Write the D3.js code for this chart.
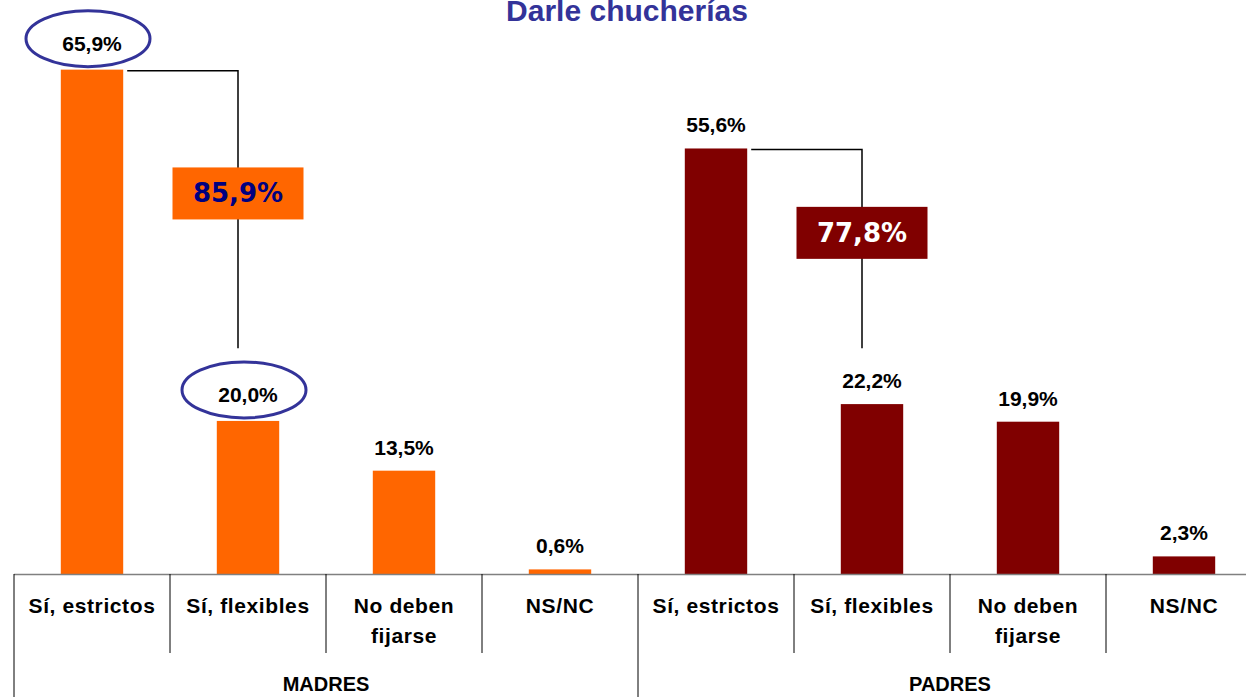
<!DOCTYPE html>
<html>
<head>
<meta charset="utf-8">
<script src="https://cdn.jsdelivr.net/npm/d3@7"></script>
<style>
  body { margin: 0; background: #fff; }
  svg { display: block; font-family: "Liberation Sans", Arial, sans-serif; }
</style>
</head>
<body>
<div id="chart"></div>
<script>
// data
const title = 'Darle chucherías';
const groups = ['MADRES', 'PADRES'];
const categories = ['Sí, estrictos', 'Sí, flexibles', 'No deben fijarse', 'NS/NC'];
const madres = [65.9, 20.0, 13.5, 0.6];
const padres = [55.6, 22.2, 19.9, 2.3];
const totals = [85.9, 77.8]; // estrictos + flexibles
const circled = [0, 1]; // madres values marked with an ellipse

const colors = ['#FF6600', '#800000'];
const totalText = ['#000080', '#FFFFFF'];

const width = 1246, height = 697;
const margin = { top: 0, right: -16, bottom: 123, left: 14 };
const baseY = height - margin.bottom;

const rows = groups.flatMap((g, gi) =>
  categories.map((c, ci) => ({
    group: g, gi, cat: c, ci,
    key: g + '|' + c,
    value: (gi === 0 ? madres : padres)[ci]
  }))
);

const svg = d3.select('#chart').append('svg')
  .attr('width', width)
  .attr('height', height);

//scale x: one cell per group/category pair
const xCell = d3.scaleBand()
  .domain(rows.map(d => d.key))
  .range([margin.left, width - margin.right])
  .padding(0);

const xBar = d3.scaleBand()
  .domain(rows.map(d => d.key))
  .range([margin.left, width - margin.right])
  .paddingInner(0.6)
  .paddingOuter(0.3);

//scale y
const y = d3.scaleLinear().domain([0, 75]).range([baseY, 0]);

// title
svg.append('text')
  .attr('x', 627)
  .attr('y', 21)
  .attr('text-anchor', 'middle')
  .style('font-size', '30px')
  .style('font-weight', 'bold')
  .style('fill', '#333399')
  .text(title);

//add bars
svg.selectAll('.bar')
  .data(rows)
  .enter()
  .append('rect')
  .attr('class', 'bar')
  .attr('x', d => xBar(d.key))
  .attr('y', d => y(d.value))
  .attr('width', xBar.bandwidth())
  .attr('height', d => y(0) - y(d.value))
  .attr('fill', d => colors[d.gi]);

// value labels
svg.selectAll('.val')
  .data(rows)
  .enter()
  .append('text')
  .attr('class', 'val')
  .attr('x', d => xBar(d.key) + xBar.bandwidth() / 2)
  .attr('y', d => y(d.value) - (d.gi === 0 && circled.includes(d.ci) ? 19 : 16))
  .attr('text-anchor', 'middle')
  .style('font-size', '21px')
  .style('font-weight', 'bold')
  .style('fill', '#000')
  .text(d => d3.format('.1f')(d.value).replace('.', ',') + '%');

// ellipses round the madres values
svg.selectAll('.ring')
  .data(rows.filter(d => d.gi === 0 && circled.includes(d.ci)))
  .enter()
  .append('ellipse')
  .attr('cx', d => xBar(d.key) + xBar.bandwidth() / 2 - 4)
  .attr('cy', d => y(d.value) - 31)
  .attr('rx', 62)
  .attr('ry', 28)
  .attr('fill', 'none')
  .attr('stroke', '#333399')
  .attr('stroke-width', 3);

// connector lines + total boxes
groups.forEach((g, gi) => {
  const a = rows.find(d => d.gi === gi && d.ci === 0);
  const b = rows.find(d => d.gi === gi && d.ci === 1);
  const x1 = xBar(a.key) + xBar.bandwidth() + 4;
  const xv = xBar(b.key) + xBar.bandwidth() / 2 - 10;
  const y1 = y(a.value) + 1;
  const y2 = y(29.5);

  svg.append('path')
    .attr('d', `M${x1},${y1}H${xv}V${y2}`)
    .attr('fill', 'none')
    .attr('stroke', '#000')
    .attr('stroke-width', 1.5);

  const cy = (y1 + y2) / 2 - 16;
  svg.append('rect')
    .attr('x', xv - 65.5)
    .attr('y', cy - 26)
    .attr('width', 131)
    .attr('height', 52)
    .attr('fill', colors[gi]);

  svg.append('text')
    .attr('x', xv)
    .attr('y', cy + 9)
    .attr('text-anchor', 'middle')
    .style('font-family', '"DejaVu Sans", Verdana, sans-serif')
    .style('font-size', '26px')
    .style('font-weight', 'bold')
    .style('fill', totalText[gi])
    .text(d3.format('.1f')(totals[gi]).replace('.', ',') + '%');
});

//add X-axis (category table)
svg.append('line')
  .attr('x1', margin.left)
  .attr('x2', width)
  .attr('y1', baseY + 0.5)
  .attr('y2', baseY + 0.5)
  .attr('stroke', '#808080')
  .attr('stroke-width', 1.5);

svg.selectAll('.div')
  .data(rows)
  .enter()
  .append('line')
  .attr('x1', d => xCell(d.key))
  .attr('x2', d => xCell(d.key))
  .attr('y1', baseY)
  .attr('y2', d => d.ci === 0 ? height : baseY + 79)
  .attr('stroke', '#000')
  .attr('stroke-width', 1);

const catText = svg.selectAll('.cat')
  .data(rows)
  .enter()
  .append('text')
  .attr('class', 'cat')
  .attr('text-anchor', 'middle')
  .style('font-size', '21px')
  .style('font-weight', 'bold')
  .style('letter-spacing', '0.6px')
  .style('fill', '#000');

catText.each(function (d) {
  const words = d.cat.split(' ');
  const lines = words.length > 2 ? [words.slice(0, 2).join(' '), words.slice(2).join(' ')] : [d.cat];
  d3.select(this).selectAll('tspan')
    .data(lines)
    .enter()
    .append('tspan')
    .attr('x', xCell(d.key) + xCell.bandwidth() / 2)
    .attr('y', (l, i) => baseY + 39 + i * 30)
    .text(l => l);
});

// group labels
svg.selectAll('.grp')
  .data(groups)
  .enter()
  .append('text')
  .attr('x', (g, gi) => {
    const first = xCell(g + '|' + categories[0]);
    return first + xCell.bandwidth() * categories.length / 2;
  })
  .attr('y', baseY + 117)
  .attr('text-anchor', 'middle')
  .style('font-size', '20px')
  .style('font-weight', 'bold')
  .style('fill', '#000')
  .text(g => g);
</script>
</body>
</html>
